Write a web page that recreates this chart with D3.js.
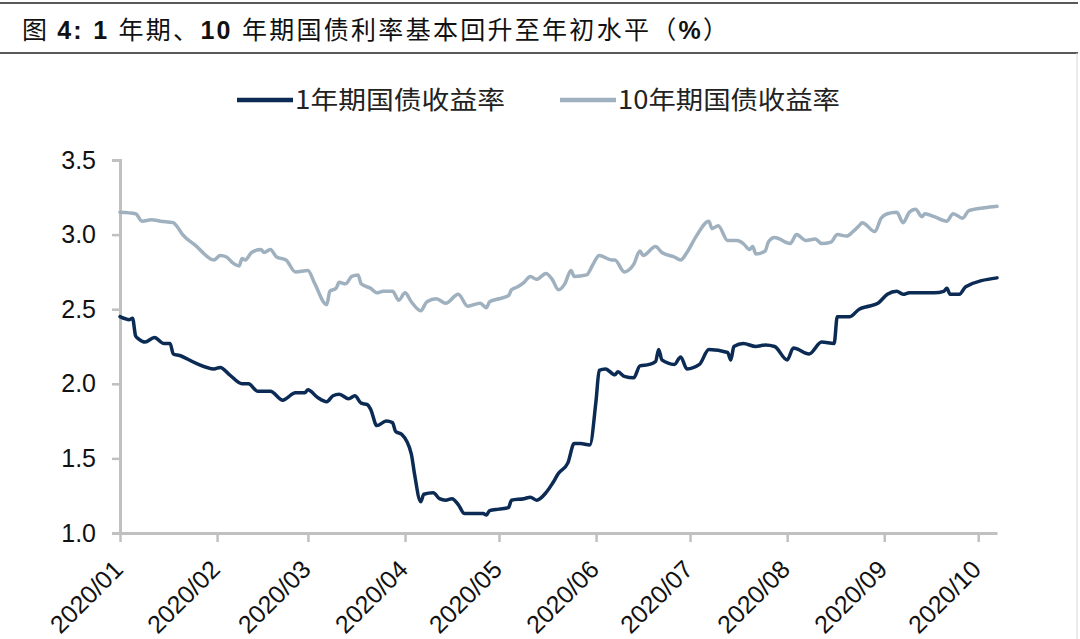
<!DOCTYPE html>
<html>
<head>
<meta charset="utf-8">
<script src="https://cdn.jsdelivr.net/npm/d3@7.9.0/dist/d3.min.js"></script>
<style>
  body { margin: 0; background: #fff; }
  svg { display: block; }
</style>
</head>
<body>
<svg id="chart" width="1080" height="639"></svg>
<script>
// series labels
const seriesNames = ['1年期国债收益率', '10年期国债收益率'];
const tickLabels = ['2020/01', '2020/02', '2020/03', '2020/04', '2020/05',
  '2020/06', '2020/07', '2020/08', '2020/09', '2020/10'];
const yTicks = [1.0, 1.5, 2.0, 2.5, 3.0, 3.5];

// 1Y yield
const dates1y = ['2020-01-01','2020-01-04','2020-01-05','2020-01-06','2020-01-07','2020-01-09','2020-01-12',
  '2020-01-15','2020-01-17','2020-01-18','2020-01-20','2020-01-25','2020-01-31','2020-02-02','2020-02-05',
  '2020-02-09','2020-02-11','2020-02-14','2020-02-18','2020-02-22','2020-02-23','2020-02-26','2020-02-29',
  '2020-03-01','2020-03-04','2020-03-07','2020-03-09','2020-03-11','2020-03-14','2020-03-16','2020-03-18',
  '2020-03-20','2020-03-21','2020-03-23','2020-03-26','2020-03-28','2020-03-29','2020-03-31','2020-04-03',
  '2020-04-04','2020-04-06','2020-04-07','2020-04-10','2020-04-12','2020-04-14','2020-04-16','2020-04-18',
  '2020-04-20','2020-04-23','2020-04-26','2020-04-27','2020-04-28','2020-05-01','2020-05-04','2020-05-05',
  '2020-05-09','2020-05-11','2020-05-13','2020-05-16','2020-05-18','2020-05-20','2020-05-23','2020-05-25',
  '2020-05-27','2020-05-30','2020-06-01','2020-06-02','2020-06-04','2020-06-07','2020-06-08','2020-06-10',
  '2020-06-13','2020-06-15','2020-06-18','2020-06-20','2020-06-21','2020-06-22','2020-06-26','2020-06-28',
  '2020-06-30','2020-07-04','2020-07-07','2020-07-13','2020-07-14','2020-07-15','2020-07-18','2020-07-22',
  '2020-07-25','2020-07-28','2020-08-01','2020-08-03','2020-08-08','2020-08-12','2020-08-16','2020-08-17',
  '2020-08-21','2020-08-24','2020-08-27','2020-08-30','2020-09-02','2020-09-05','2020-09-07','2020-09-09',
  '2020-09-13','2020-09-17','2020-09-20','2020-09-21','2020-09-22','2020-09-25','2020-09-27','2020-10-07'];
const values1y = [2.45,2.43,2.44,2.32,2.30,2.28,2.31,
  2.27,2.27,2.20,2.19,2.14,2.10,2.11,2.06,
  2.00,2.00,1.95,1.95,1.89,1.90,1.94,1.94,
  1.96,1.91,1.88,1.92,1.93,1.90,1.92,1.87,
  1.86,1.83,1.72,1.75,1.74,1.68,1.66,1.53,
  1.40,1.21,1.26,1.27,1.23,1.22,1.23,1.19,
  1.13,1.13,1.13,1.12,1.15,1.16,1.17,1.22,
  1.23,1.24,1.22,1.27,1.33,1.40,1.47,1.60,
  1.60,1.59,1.89,2.09,2.10,2.06,2.08,2.05,
  2.04,2.12,2.13,2.15,2.23,2.16,2.13,2.18,
  2.10,2.13,2.23,2.21,2.16,2.25,2.27,2.25,
  2.26,2.25,2.16,2.24,2.20,2.28,2.27,2.45,
  2.45,2.50,2.52,2.54,2.60,2.62,2.60,2.61,
  2.61,2.61,2.62,2.64,2.60,2.60,2.65,2.71];

// 10Y yield
const dates10y = ['2020-01-01','2020-01-06','2020-01-08','2020-01-11','2020-01-14','2020-01-18','2020-01-19',
  '2020-01-21','2020-01-25','2020-01-31','2020-02-02','2020-02-04','2020-02-06','2020-02-08','2020-02-09',
  '2020-02-10','2020-02-12','2020-02-15','2020-02-16','2020-02-18','2020-02-20','2020-02-23','2020-02-26',
  '2020-03-01','2020-03-03','2020-03-07','2020-03-08','2020-03-10','2020-03-11','2020-03-13','2020-03-15',
  '2020-03-17','2020-03-18','2020-03-21','2020-03-23','2020-03-25','2020-03-28','2020-03-30','2020-04-01',
  '2020-04-03','2020-04-06','2020-04-08','2020-04-11','2020-04-14','2020-04-18','2020-04-21','2020-04-25',
  '2020-04-27','2020-04-28','2020-05-01','2020-05-04','2020-05-05','2020-05-07','2020-05-09','2020-05-11',
  '2020-05-13','2020-05-16','2020-05-18','2020-05-20','2020-05-22','2020-05-24','2020-05-25','2020-05-29',
  '2020-05-31','2020-06-02','2020-06-06','2020-06-07','2020-06-10','2020-06-13','2020-06-15','2020-06-16',
  '2020-06-20','2020-06-22','2020-06-26','2020-06-28','2020-06-30','2020-07-03','2020-07-07','2020-07-08',
  '2020-07-10','2020-07-13','2020-07-16','2020-07-18','2020-07-20','2020-07-21','2020-07-22','2020-07-25',
  '2020-07-26','2020-07-28','2020-08-02','2020-08-04','2020-08-07','2020-08-10','2020-08-12','2020-08-15',
  '2020-08-17','2020-08-20','2020-08-22','2020-08-24','2020-08-25','2020-08-29','2020-08-31','2020-09-02',
  '2020-09-05','2020-09-07','2020-09-09','2020-09-11','2020-09-13','2020-09-14','2020-09-17','2020-09-21',
  '2020-09-23','2020-09-26','2020-09-28','2020-10-03','2020-10-07'];
const values10y = [3.15,3.14,3.09,3.10,3.09,3.08,3.06,
  3.00,2.93,2.83,2.86,2.85,2.81,2.79,2.84,
  2.83,2.88,2.90,2.88,2.90,2.85,2.83,2.75,
  2.76,2.68,2.53,2.62,2.64,2.68,2.67,2.72,
  2.73,2.67,2.64,2.61,2.62,2.62,2.56,2.61,
  2.55,2.49,2.55,2.57,2.54,2.60,2.52,2.54,
  2.51,2.55,2.57,2.59,2.63,2.65,2.68,2.72,
  2.70,2.74,2.70,2.63,2.67,2.76,2.72,2.73,
  2.80,2.86,2.83,2.83,2.75,2.80,2.89,2.86,
  2.92,2.88,2.85,2.83,2.88,2.99,3.09,3.04,
  3.06,2.96,2.96,2.94,2.90,2.92,2.87,2.89,
  2.95,2.98,2.94,3.00,2.96,2.97,2.94,2.95,
  3.00,2.99,3.02,3.06,3.08,3.02,3.11,3.14,
  3.15,3.08,3.15,3.17,3.12,3.14,3.12,3.09,
  3.14,3.11,3.16,3.18,3.19];

const parse = d3.timeParse('%Y-%m-%d');
const tickDates = tickLabels.map(t => parse(t.replace('/', '-') + '-01'));

const svg = d3.select('#chart');
const margin = { left: 120, right: 83, top: 160, bottom: 106 };
const width = 1080, height = 639;
const latin = '"Liberation Sans", Arial, sans-serif';
const cjk = '"Noto Sans CJK SC", sans-serif';

// frame lines
svg.append('line').attr('x1', 0).attr('x2', 1078).attr('y1', 3).attr('y2', 3)
  .attr('stroke', '#222').attr('stroke-width', 1.5);
svg.append('line').attr('x1', 0).attr('x2', 1078).attr('y1', 53).attr('y2', 53)
  .attr('stroke', '#222').attr('stroke-width', 1.5);
svg.append('line').attr('x1', 1077).attr('x2', 1077).attr('y1', 53).attr('y2', height)
  .attr('stroke', '#d9d9d9').attr('stroke-width', 1);

// title: Chinese regular, numbers bold
const titleParts = [
  ['图 ', 'normal', cjk], ['4: 1 ', 'bold', latin], ['年期、', 'normal', cjk],
  ['10 ', 'bold', latin], ['年期国债利率基本回升至年初水平（', 'normal', cjk],
  ['%', 'bold', latin], ['）', 'normal', cjk]
];
let title = svg.append('text')
  .attr('x', 22).attr('y', 39)
  .attr('font-size', 25)
  .attr('fill', '#111')
  .attr('textLength', 706)
  .attr('lengthAdjust', 'spacing');
titleParts.forEach(p => {
  title.append('tspan').attr('font-family', p[2]).attr('font-weight', p[1]).text(p[0]);
});

let x = d3.scaleTime()
  .domain([parse('2020-01-01'), parse('2020-10-07')])
  .range([margin.left, width - margin.right]);
let y = d3.scaleLinear()
  .domain([1.0, 3.5])
  .range([height - margin.bottom, margin.top]);

// y axis
let yAxis = svg.append('g')
  .attr('transform', `translate(${margin.left},0)`)
  .call(d3.axisLeft(y).tickValues(yTicks).tickFormat(d3.format('.1f')).tickSize(8).tickPadding(16));
yAxis.select('.domain').attr('stroke', '#c0c0c0').attr('stroke-width', 3);
yAxis.selectAll('.tick line').attr('stroke', '#c0c0c0').attr('stroke-width', 2.5);
yAxis.selectAll('text')
  .attr('font-family', latin)
  .attr('font-size', 25).attr('fill', '#111');

// x axis
let xAxis = svg.append('g')
  .attr('transform', `translate(0,${height - margin.bottom})`)
  .call(d3.axisBottom(x).tickValues(tickDates).tickFormat((d, i) => tickLabels[i]).tickSize(9).tickSizeOuter(0));
xAxis.select('.domain').attr('stroke', '#c0c0c0').attr('stroke-width', 3);
xAxis.selectAll('.tick line').attr('stroke', '#c0c0c0').attr('stroke-width', 2.5);
xAxis.selectAll('text')
  .attr('font-family', latin)
  .attr('font-size', 25).attr('fill', '#111')
  .attr('text-anchor', 'end')
  .attr('y', 0).attr('dy', 0)
  .attr('transform', 'translate(4,38) rotate(-45)');

// lines
const colors = ['#0b2b55', '#9fb0bf'];
const series = [
  { name: seriesNames[0], dates: dates1y, values: values1y },
  { name: seriesNames[1], dates: dates10y, values: values10y },
];

let line = d3.line()
  .x(d => x(d.date))
  .y(d => y(d.value))
  .curve(d3.curveMonotoneX);

// draw 10y first, then 1y on top
[1, 0].forEach(i => {
  let s = series[i];
  let pts = s.dates.map((d, k) => ({ date: parse(d), value: s.values[k] }));
  svg.append('path')
    .datum(pts)
    .attr('d', line)
    .attr('fill', 'none')
    .attr('stroke', colors[i])
    .attr('stroke-width', 3.5)
    .attr('stroke-linejoin', 'round')
    .attr('stroke-linecap', 'round');
});

// legend
const legendX = [237, 560];
const legendLen = [210, 222];
series.forEach((s, i) => {
  let g = svg.append('g').attr('transform', `translate(${legendX[i]},100)`);
  g.append('line').attr('x1', 0).attr('x2', 56).attr('y1', 0).attr('y2', 0)
    .attr('stroke', colors[i]).attr('stroke-width', 4.5);
  g.append('text').attr('x', 58).attr('y', 9)
    .attr('font-family', cjk)
    .attr('font-size', 25).attr('fill', '#222')
    .attr('textLength', legendLen[i])
    .attr('lengthAdjust', 'spacingAndGlyphs')
    .text(s.name);
});
</script>
</body>
</html>
